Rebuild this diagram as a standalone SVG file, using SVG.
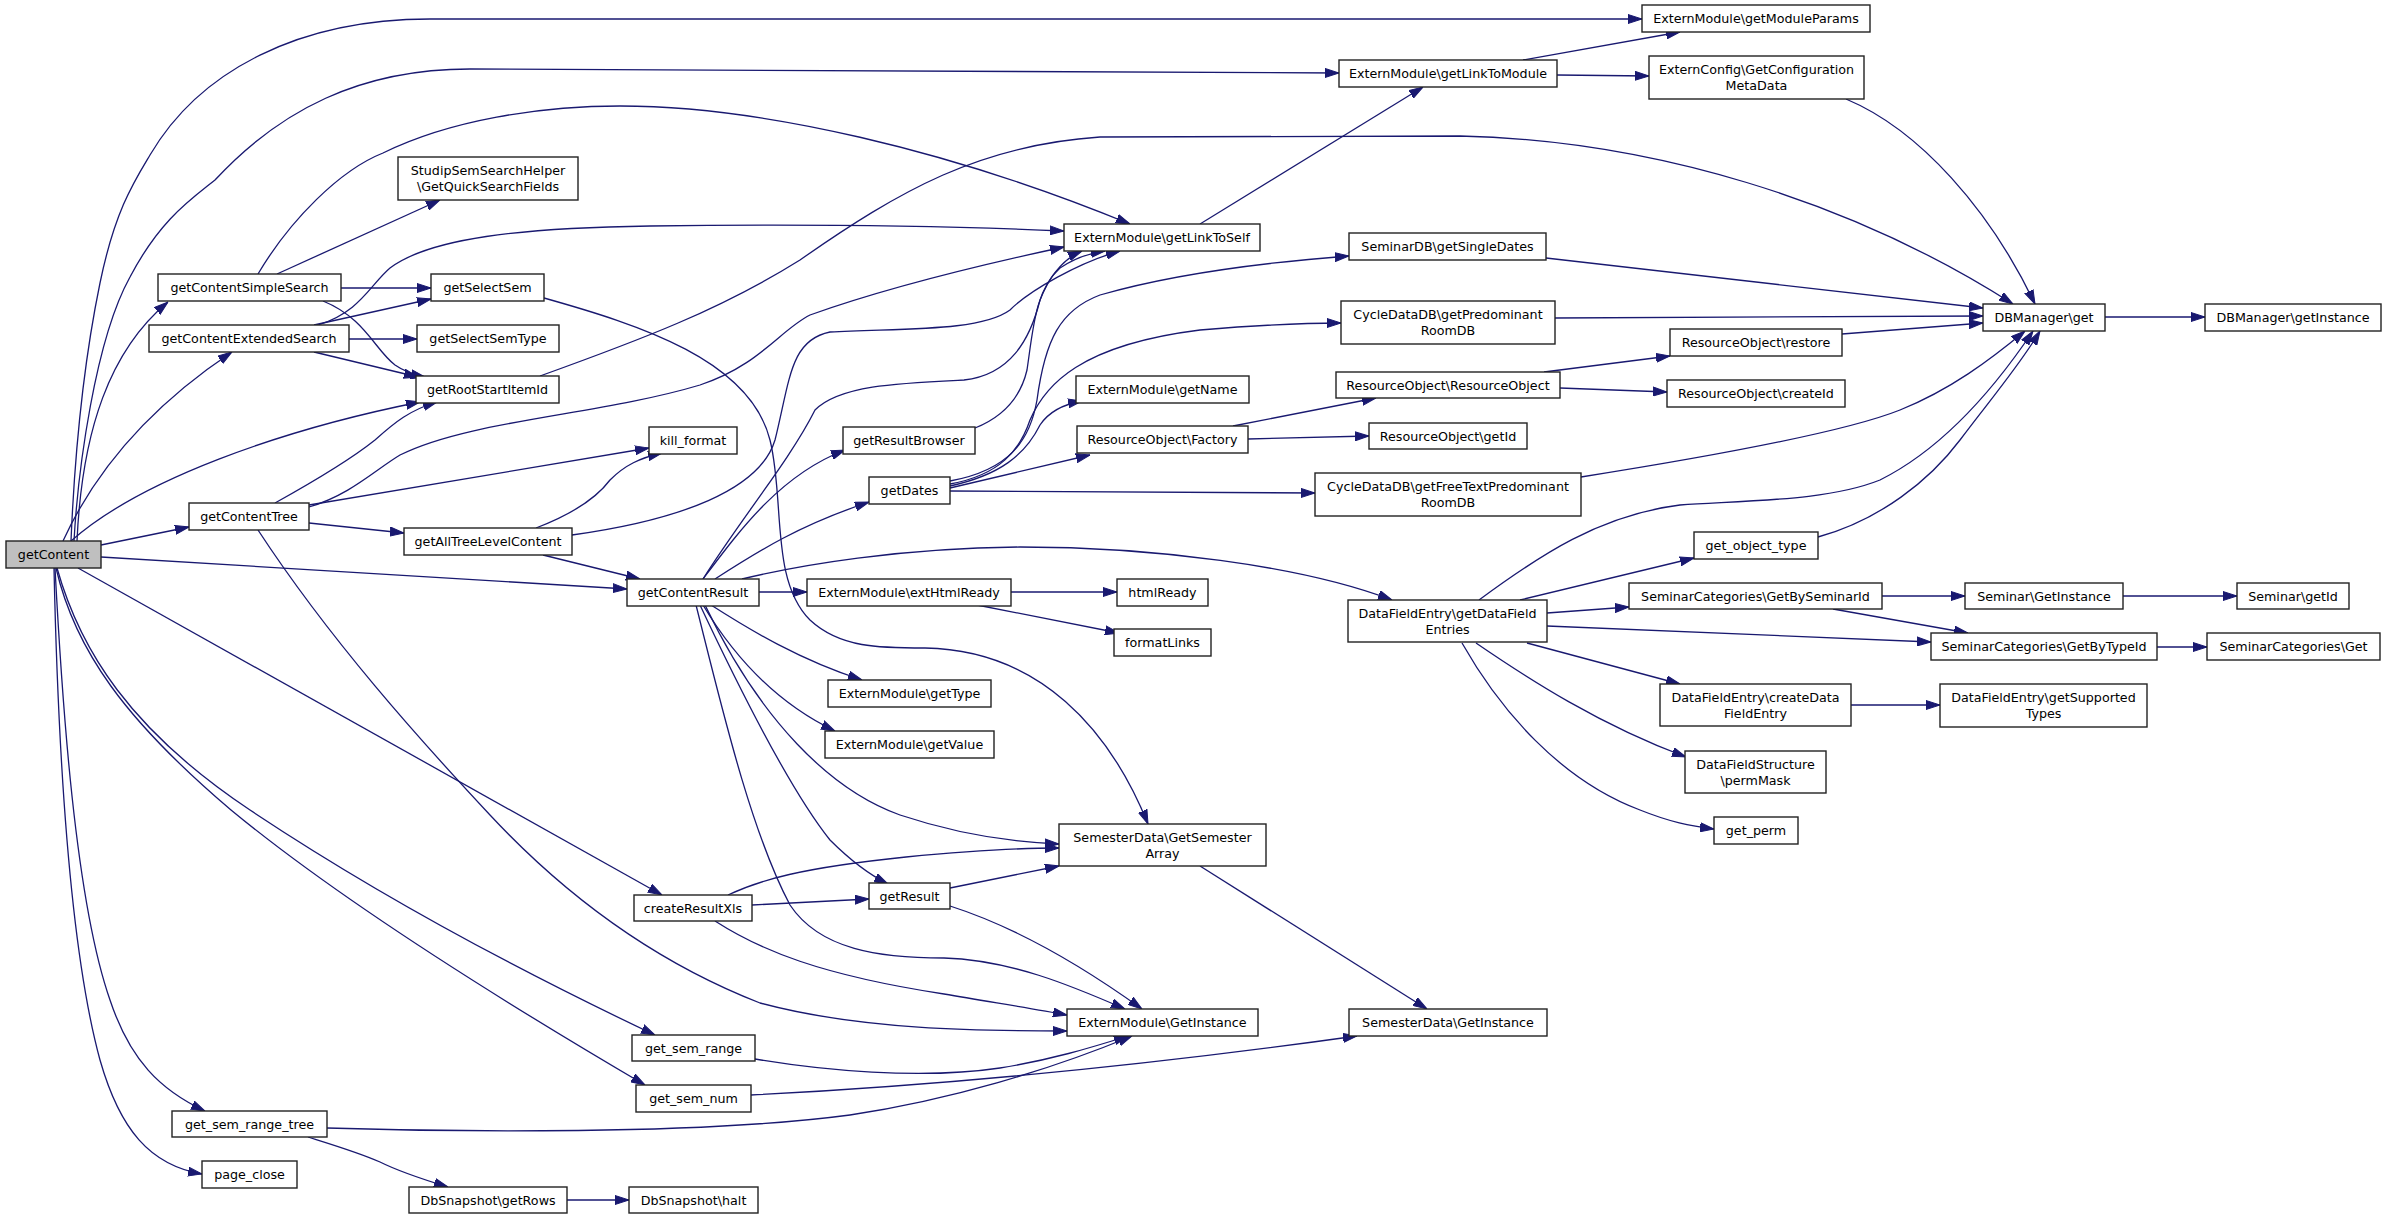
<svg xmlns="http://www.w3.org/2000/svg" width="2387" height="1219" viewBox="0 0 2387 1219">
<style>
.node rect{fill:#ffffff;stroke:#222222;stroke-width:1.4}
.node.root rect{fill:#bfbfbf}
.node text{font-family:"DejaVu Sans","Liberation Sans",sans-serif;font-size:12.7px;fill:#000000;text-anchor:middle}
.edges path{fill:none;stroke:#191970;stroke-width:1.3;marker-end:url(#arr)}
</style>
<defs>
<marker id="arr" markerUnits="userSpaceOnUse" markerWidth="14" markerHeight="10" viewBox="0 0 14 10" refX="14" refY="5" orient="auto">
<path d="M0,0.5 L14,5 L0,9.5 z" fill="#191970" stroke="#191970" stroke-width="1"/>
</marker>
</defs>
<rect x="0" y="0" width="2387" height="1219" fill="#ffffff"/>
<g class="edges">
<path d="M71,541 C74,470 80,380 100,283 C115,210 135,180 150,155 C200,70 300,19 430,19 L1642,19"/>
<path d="M74,541 C78,470 95,340 130,277 C160,220 190,200 215,180 C280,110 360,69 470,69 L1339,73"/>
<path d="M77,541 C82,430 110,350 168,302"/>
<path d="M63,541 C100,460 160,400 232,352"/>
<path d="M71,541 C140,480 280,430 420,402"/>
<path d="M101,545 L189,527"/>
<path d="M101,557 L627,589"/>
<path d="M78,568 L662,895"/>
<path d="M57,568 C80,650 130,730 250,810 C400,910 560,990 655,1035"/>
<path d="M56,568 C75,650 125,720 231,810 C340,900 500,1000 645,1085"/>
<path d="M55,568 C62,700 75,900 110,1000 C130,1060 160,1090 205,1111"/>
<path d="M54,568 C58,750 70,950 100,1060 C120,1130 150,1165 202,1174"/>
<path d="M277,274 L440,200"/>
<path d="M341,288 L431,288"/>
<path d="M323,301 C365,318 375,350 395,365 C405,372 415,375 425,377"/>
<path d="M258,274 C290,220 340,170 383,153 C450,120 540,106 620,106 C760,106 950,150 1130,224"/>
<path d="M314,325 L431,299"/>
<path d="M349,339 L417,339"/>
<path d="M314,352 L418,377"/>
<path d="M318,325 C360,312 370,285 390,268 C430,238 520,228 650,226 C800,224 950,226 1064,231"/>
<path d="M540,376 C640,340 720,310 800,260 C900,190 980,145 1100,137 L1460,136 C1650,140 1850,200 2013,304"/>
<path d="M544,298 C640,325 750,360 770,440 C785,500 770,580 810,620 C840,648 880,648 925,648 C1040,650 1110,730 1148,824"/>
<path d="M275,503 C320,478 350,460 375,440 C395,422 410,410 437,402"/>
<path d="M309,505 L649,448"/>
<path d="M309,507 C350,495 375,470 400,455 C470,420 600,415 700,385 C760,365 780,330 810,315 C880,290 980,265 1064,247"/>
<path d="M309,523 L404,533"/>
<path d="M258,530 C330,640 420,740 490,815 C560,890 650,960 760,1003 C860,1030 980,1031 1067,1031"/>
<path d="M536,528 C570,515 595,500 610,480 C625,465 640,458 662,453"/>
<path d="M543,555 L640,579"/>
<path d="M572,535 C680,520 760,490 775,440 C790,380 790,340 830,332 C900,328 980,332 1010,310 C1030,290 1080,262 1120,251"/>
<path d="M703,579 C740,520 790,460 815,410 C840,385 900,383 964,380 C1010,375 1030,340 1040,300 C1050,275 1065,258 1082,251"/>
<path d="M975,428 C1000,418 1020,400 1027,370 C1033,330 1035,290 1060,268 C1075,258 1090,253 1105,251"/>
<path d="M703,579 C740,530 780,475 845,450"/>
<path d="M715,579 C760,550 800,525 869,502"/>
<path d="M759,592 L807,592"/>
<path d="M742,579 C800,565 900,548 1020,547 C1150,547 1300,565 1392,600"/>
<path d="M711,605 C750,630 800,660 862,680"/>
<path d="M703,605 C730,650 770,700 835,731"/>
<path d="M700,605 C740,690 790,790 830,840 C850,860 870,875 888,884"/>
<path d="M696,605 C720,700 750,830 790,905 C820,950 880,958 944,958 C1010,960 1070,985 1125,1009"/>
<path d="M705,605 C760,720 830,790 900,815 C960,835 1010,842 1059,844"/>
<path d="M950,481 C1010,470 1030,440 1037,400 C1045,340 1060,310 1100,295 C1180,272 1270,262 1349,256"/>
<path d="M950,484 C1000,475 1020,450 1030,420 C1045,385 1080,345 1200,330 C1260,325 1300,323 1341,323"/>
<path d="M950,486 C1000,475 1025,455 1040,425 C1050,410 1065,404 1082,401"/>
<path d="M950,488 L1090,455"/>
<path d="M950,491 L1315,493"/>
<path d="M1233,426 L1376,398"/>
<path d="M1248,439 L1369,436"/>
<path d="M1544,372 L1670,356"/>
<path d="M1560,388 L1667,392"/>
<path d="M1842,334 L1983,323"/>
<path d="M1546,258 L1983,308"/>
<path d="M1555,318 L1983,316"/>
<path d="M1581,477 C1720,455 1850,430 1900,410 C1950,390 1990,360 2025,331"/>
<path d="M1846,99 C1920,130 1990,210 2035,304"/>
<path d="M1818,537 C1880,520 1930,480 1960,440 C1990,400 2020,365 2040,331"/>
<path d="M1479,600 C1540,555 1600,515 1680,505 C1760,500 1830,500 1880,480 C1940,450 1990,395 2033,331"/>
<path d="M2105,317 L2205,317"/>
<path d="M1200,224 L1423,87"/>
<path d="M1523,60 L1680,32"/>
<path d="M1557,75 L1649,76"/>
<path d="M1011,592 L1117,592"/>
<path d="M977,605 L1119,633"/>
<path d="M1520,600 L1694,558"/>
<path d="M1547,613 L1629,607"/>
<path d="M1547,626 L1931,642"/>
<path d="M1527,643 L1680,684"/>
<path d="M1476,643 C1530,680 1600,725 1686,757"/>
<path d="M1462,643 C1500,710 1560,780 1640,810 C1670,822 1690,826 1714,829"/>
<path d="M1882,596 L1965,596"/>
<path d="M1833,609 L1968,633"/>
<path d="M2123,596 L2237,596"/>
<path d="M2157,647 L2207,647"/>
<path d="M1851,705 L1940,705"/>
<path d="M728,895 C760,880 800,868 906,857 C980,850 1020,848 1059,848"/>
<path d="M752,905 L869,899"/>
<path d="M715,921 C760,950 820,975 944,994 C990,1002 1030,1008 1067,1015"/>
<path d="M950,888 L1059,866"/>
<path d="M950,906 C1000,922 1060,950 1142,1009"/>
<path d="M1200,866 L1427,1009"/>
<path d="M755,1059 C820,1070 920,1080 1000,1068 C1050,1060 1090,1048 1128,1036"/>
<path d="M751,1095 C950,1085 1150,1065 1357,1036"/>
<path d="M327,1128 C450,1132 700,1135 850,1115 C950,1100 1050,1070 1132,1036"/>
<path d="M308,1137 C340,1147 360,1153 380,1162 C400,1172 425,1180 448,1187"/>
<path d="M567,1200 L629,1200"/>
</g>
<g id="n-getContent" class="node root"><rect x="6" y="541" width="95" height="27"/><text x="53.5" y="559">getContent</text></g>
<g id="n-getContentSimpleSearch" class="node"><rect x="158" y="274" width="183" height="27"/><text x="249.5" y="292">getContentSimpleSearch</text></g>
<g id="n-getContentExtendedSearch" class="node"><rect x="149" y="325" width="200" height="27"/><text x="249" y="343">getContentExtendedSearch</text></g>
<g id="n-GetQuickSearchFields" class="node"><rect x="398" y="157" width="180" height="43"/><text x="488" y="175">StudipSemSearchHelper</text><text x="488" y="191">\GetQuickSearchFields</text></g>
<g id="n-getSelectSem" class="node"><rect x="431" y="274" width="113" height="27"/><text x="487.5" y="292">getSelectSem</text></g>
<g id="n-getSelectSemType" class="node"><rect x="417" y="325" width="142" height="27"/><text x="488" y="343">getSelectSemType</text></g>
<g id="n-getRootStartItemId" class="node"><rect x="416" y="376" width="143" height="27"/><text x="487.5" y="394">getRootStartItemId</text></g>
<g id="n-getContentTree" class="node"><rect x="189" y="503" width="120" height="27"/><text x="249" y="521">getContentTree</text></g>
<g id="n-getAllTreeLevelContent" class="node"><rect x="404" y="528" width="168" height="27"/><text x="488" y="546">getAllTreeLevelContent</text></g>
<g id="n-kill_format" class="node"><rect x="649" y="427" width="88" height="27"/><text x="693" y="445">kill_format</text></g>
<g id="n-getContentResult" class="node"><rect x="627" y="579" width="132" height="27"/><text x="693" y="597">getContentResult</text></g>
<g id="n-getResultBrowser" class="node"><rect x="843" y="427" width="132" height="27"/><text x="909" y="445">getResultBrowser</text></g>
<g id="n-getDates" class="node"><rect x="869" y="477" width="81" height="27"/><text x="909.5" y="495">getDates</text></g>
<g id="n-getLinkToSelf" class="node"><rect x="1064" y="224" width="196" height="27"/><text x="1162" y="242">ExternModule\getLinkToSelf</text></g>
<g id="n-getName" class="node"><rect x="1076" y="376" width="173" height="27"/><text x="1162.5" y="394">ExternModule\getName</text></g>
<g id="n-Factory" class="node"><rect x="1077" y="426" width="171" height="27"/><text x="1162.5" y="444">ResourceObject\Factory</text></g>
<g id="n-extHtmlReady" class="node"><rect x="807" y="579" width="204" height="27"/><text x="909" y="597">ExternModule\extHtmlReady</text></g>
<g id="n-htmlReady" class="node"><rect x="1117" y="579" width="91" height="27"/><text x="1162.5" y="597">htmlReady</text></g>
<g id="n-formatLinks" class="node"><rect x="1114" y="629" width="97" height="27"/><text x="1162.5" y="647">formatLinks</text></g>
<g id="n-getType" class="node"><rect x="828" y="680" width="163" height="27"/><text x="909.5" y="698">ExternModule\getType</text></g>
<g id="n-getValue" class="node"><rect x="825" y="731" width="169" height="27"/><text x="909.5" y="749">ExternModule\getValue</text></g>
<g id="n-getModuleParams" class="node"><rect x="1642" y="5" width="228" height="27"/><text x="1756" y="23">ExternModule\getModuleParams</text></g>
<g id="n-getLinkToModule" class="node"><rect x="1339" y="60" width="218" height="27"/><text x="1448" y="78">ExternModule\getLinkToModule</text></g>
<g id="n-GetConfigurationMetaData" class="node"><rect x="1649" y="56" width="215" height="43"/><text x="1756.5" y="74">ExternConfig\GetConfiguration</text><text x="1756.5" y="90">MetaData</text></g>
<g id="n-getSingleDates" class="node"><rect x="1349" y="233" width="197" height="27"/><text x="1447.5" y="251">SeminarDB\getSingleDates</text></g>
<g id="n-getPredominantRoomDB" class="node"><rect x="1341" y="301" width="214" height="43"/><text x="1448" y="319">CycleDataDB\getPredominant</text><text x="1448" y="335">RoomDB</text></g>
<g id="n-restore" class="node"><rect x="1670" y="329" width="172" height="27"/><text x="1756" y="347">ResourceObject\restore</text></g>
<g id="n-ResourceObject" class="node"><rect x="1336" y="372" width="224" height="26"/><text x="1448" y="389.5">ResourceObject\ResourceObject</text></g>
<g id="n-createId" class="node"><rect x="1667" y="380" width="178" height="27"/><text x="1756" y="398">ResourceObject\createId</text></g>
<g id="n-DBManager-get" class="node"><rect x="1983" y="304" width="122" height="27"/><text x="2044" y="322">DBManager\get</text></g>
<g id="n-DBManager-getInstance" class="node"><rect x="2205" y="304" width="176" height="27"/><text x="2293" y="322">DBManager\getInstance</text></g>
<g id="n-getId" class="node"><rect x="1369" y="423" width="158" height="26"/><text x="1448" y="440.5">ResourceObject\getId</text></g>
<g id="n-getFreeTextPredominantRoomDB" class="node"><rect x="1315" y="473" width="266" height="43"/><text x="1448" y="491">CycleDataDB\getFreeTextPredominant</text><text x="1448" y="507">RoomDB</text></g>
<g id="n-get_object_type" class="node"><rect x="1694" y="532" width="124" height="27"/><text x="1756" y="550">get_object_type</text></g>
<g id="n-GetBySeminarId" class="node"><rect x="1629" y="583" width="253" height="26"/><text x="1755.5" y="600.5">SeminarCategories\GetBySeminarId</text></g>
<g id="n-getDataFieldEntries" class="node"><rect x="1348" y="600" width="199" height="42"/><text x="1447.5" y="618">DataFieldEntry\getDataField</text><text x="1447.5" y="634">Entries</text></g>
<g id="n-createDataFieldEntry" class="node"><rect x="1660" y="684" width="191" height="42"/><text x="1755.5" y="702">DataFieldEntry\createData</text><text x="1755.5" y="718">FieldEntry</text></g>
<g id="n-permMask" class="node"><rect x="1685" y="751" width="141" height="42"/><text x="1755.5" y="769">DataFieldStructure</text><text x="1755.5" y="785">\permMask</text></g>
<g id="n-get_perm" class="node"><rect x="1714" y="817" width="84" height="27"/><text x="1756" y="835">get_perm</text></g>
<g id="n-Seminar-GetInstance" class="node"><rect x="1965" y="583" width="158" height="26"/><text x="2044" y="600.5">Seminar\GetInstance</text></g>
<g id="n-Seminar-getId" class="node"><rect x="2237" y="583" width="112" height="26"/><text x="2293" y="600.5">Seminar\getId</text></g>
<g id="n-GetByTypeId" class="node"><rect x="1931" y="633" width="226" height="27"/><text x="2044" y="651">SeminarCategories\GetByTypeId</text></g>
<g id="n-SeminarCategories-Get" class="node"><rect x="2207" y="633" width="173" height="27"/><text x="2293.5" y="651">SeminarCategories\Get</text></g>
<g id="n-getSupportedTypes" class="node"><rect x="1940" y="684" width="207" height="43"/><text x="2043.5" y="702">DataFieldEntry\getSupported</text><text x="2043.5" y="718">Types</text></g>
<g id="n-GetSemesterArray" class="node"><rect x="1059" y="824" width="207" height="42"/><text x="1162.5" y="842">SemesterData\GetSemester</text><text x="1162.5" y="858">Array</text></g>
<g id="n-getResult" class="node"><rect x="869" y="883" width="81" height="26"/><text x="909.5" y="900.5">getResult</text></g>
<g id="n-createResultXls" class="node"><rect x="634" y="895" width="118" height="26"/><text x="693" y="912.5">createResultXls</text></g>
<g id="n-ExternModule-GetInstance" class="node"><rect x="1067" y="1009" width="191" height="27"/><text x="1162.5" y="1027">ExternModule\GetInstance</text></g>
<g id="n-SemesterData-GetInstance" class="node"><rect x="1349" y="1009" width="198" height="27"/><text x="1448" y="1027">SemesterData\GetInstance</text></g>
<g id="n-get_sem_range" class="node"><rect x="632" y="1035" width="123" height="26"/><text x="693.5" y="1052.5">get_sem_range</text></g>
<g id="n-get_sem_num" class="node"><rect x="636" y="1085" width="115" height="27"/><text x="693.5" y="1103">get_sem_num</text></g>
<g id="n-get_sem_range_tree" class="node"><rect x="172" y="1111" width="155" height="26"/><text x="249.5" y="1128.5">get_sem_range_tree</text></g>
<g id="n-page_close" class="node"><rect x="202" y="1161" width="95" height="27"/><text x="249.5" y="1179">page_close</text></g>
<g id="n-getRows" class="node"><rect x="409" y="1187" width="158" height="26"/><text x="488" y="1204.5">DbSnapshot\getRows</text></g>
<g id="n-halt" class="node"><rect x="629" y="1187" width="129" height="26"/><text x="693.5" y="1204.5">DbSnapshot\halt</text></g>
</svg>
